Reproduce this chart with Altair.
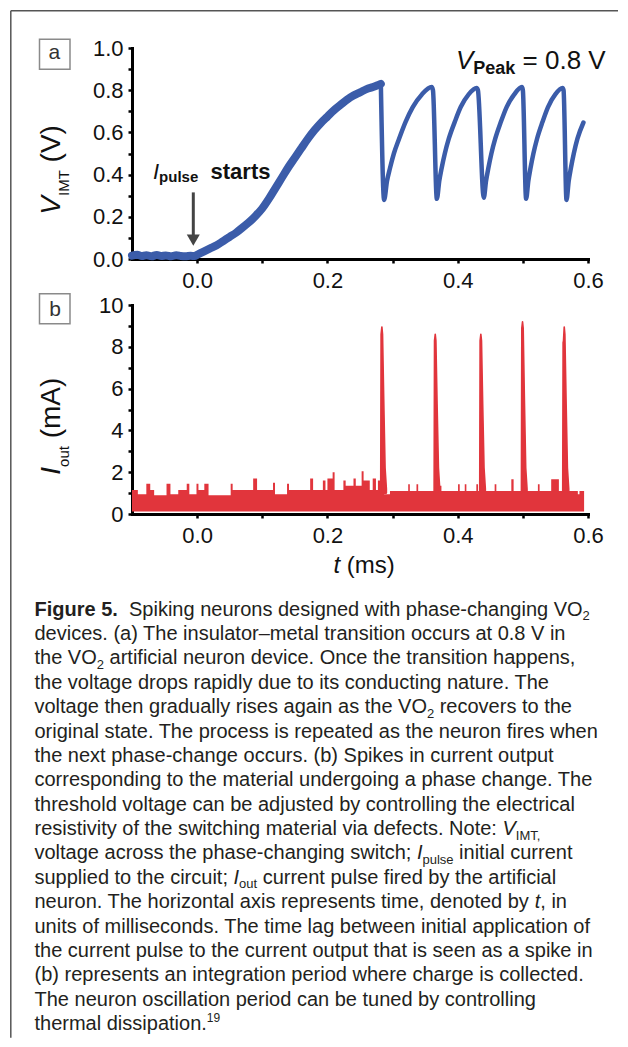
import altair as alt
import pandas as pd

FONT = "Liberation Sans"
BLUE = "#3b5ca9"
RED = "#e1353c"
INK = "#111111"
CAP_INK = "#231f20"

# ---------------- panel (a): V_IMT (V) versus t (ms) ----------------
v_time = [-0.100, -0.092, -0.085, -0.078, -0.070, -0.062, -0.055, -0.048, -0.040, -0.032,
          -0.025, -0.018, -0.010, -0.004, 0.000, 0.010, 0.020, 0.030, 0.040, 0.050,
          0.060, 0.070, 0.080, 0.090, 0.100, 0.110, 0.120, 0.130, 0.140, 0.150,
          0.160, 0.170, 0.180, 0.190, 0.200, 0.210, 0.220, 0.230, 0.240, 0.250,
          0.260, 0.270, 0.276, 0.282,
          0.287, 0.2915, 0.296, 0.302, 0.310, 0.320, 0.331, 0.345, 0.360, 0.362, 0.368,
          0.3717, 0.3753, 0.3802, 0.3863, 0.3955, 0.4046, 0.4168, 0.4290, 0.4310, 0.4400,
          0.4435, 0.4470, 0.4517, 0.4576, 0.4663, 0.4751, 0.4868, 0.4985, 0.5000, 0.5050,
          0.5084, 0.5117, 0.5162, 0.5218, 0.5302, 0.5386, 0.5498, 0.5610, 0.5625, 0.5670,
          0.5704, 0.5737, 0.5782, 0.5838, 0.5930]
v_volt = [0.016, 0.020, 0.014, 0.018, 0.013, 0.019, 0.014, 0.017, 0.013, 0.018,
          0.014, 0.013, 0.015, 0.014, 0.020, 0.035, 0.050, 0.065, 0.085, 0.105,
          0.125, 0.150, 0.175, 0.205, 0.240, 0.285, 0.335, 0.385, 0.435, 0.480,
          0.525, 0.570, 0.610, 0.645, 0.675, 0.705, 0.730, 0.755, 0.775, 0.790,
          0.805, 0.815, 0.822, 0.830,
          0.280, 0.370, 0.430, 0.500, 0.570, 0.650, 0.720, 0.780, 0.815, 0.800, 0.285,
          0.370, 0.430, 0.500, 0.570, 0.650, 0.720, 0.780, 0.810, 0.800, 0.290,
          0.370, 0.430, 0.500, 0.570, 0.650, 0.720, 0.780, 0.815, 0.800, 0.285,
          0.370, 0.430, 0.500, 0.570, 0.650, 0.720, 0.780, 0.810, 0.800, 0.280,
          0.370, 0.430, 0.500, 0.570, 0.647]

# ---------------- panel (b): I_out (mA) versus t (ms) ----------------
noise = [(-0.100, 1.15), (-0.091, 0.95), (-0.078, 1.45), (-0.072, 1.15), (-0.066, 0.90),
         (-0.047, 1.45), (-0.041, 0.95), (-0.029, 1.15), (-0.016, 1.45), (-0.012, 0.95),
         (-0.001, 1.45), (0.002, 1.15), (0.011, 1.45), (0.0175, 0.90), (0.0515, 1.45),
         (0.0545, 1.15), (0.086, 1.70), (0.092, 1.15), (0.1165, 1.50), (0.1195, 0.95),
         (0.138, 1.45), (0.141, 1.15), (0.1735, 1.70), (0.178, 1.15), (0.193, 1.60),
         (0.197, 1.15), (0.200, 1.70), (0.208, 2.00), (0.211, 1.15), (0.2245, 1.60),
         (0.228, 1.35), (0.240, 1.70), (0.2435, 1.35), (0.2525, 2.05), (0.2555, 1.60),
         (0.265, 1.15), (0.2695, 1.70), (0.2745, 1.15), (0.2775, 1.60), (0.2825, 1.30),
         (0.287, 0.95), (0.296, 1.10), (0.324, 1.42), (0.3265, 1.10), (0.3367, 1.42),
         (0.3393, 1.10), (0.3673, 1.35), (0.375, 1.10), (0.4005, 1.42), (0.4031, 1.10),
         (0.4108, 1.42), (0.4133, 1.10), (0.4286, 1.42), (0.4312, 1.10), (0.4567, 1.42),
         (0.4593, 1.10), (0.4823, 1.66), (0.4858, 1.10), (0.5231, 1.42), (0.5257, 1.10),
         (0.5435, 1.66), (0.5553, 1.10), (0.5844, 0.94), (0.5869, 1.10), (0.594, 1.10)]
spike_1 = [(0.2818, 1.3), (0.2824, 8.6), (0.2836, 8.95), (0.2846, 8.6), (0.2864, 5.5), (0.2885, 2.2), (0.2905, 1.2)]
spike_2 = [(0.3638, 1.3), (0.3644, 8.3), (0.3655, 8.6), (0.3665, 8.3), (0.3683, 5.3), (0.3704, 2.2), (0.3724, 1.2)]
spike_3 = [(0.4338, 1.3), (0.4344, 8.3), (0.4355, 8.6), (0.4365, 8.3), (0.4383, 5.3), (0.4404, 2.2), (0.4424, 1.2)]
spike_4 = [(0.4978, 1.3), (0.4984, 8.9), (0.4995, 9.2), (0.5005, 8.9), (0.5023, 5.6), (0.5044, 2.2), (0.5064, 1.2)]
spike_5 = [(0.5612, 1.3), (0.5618, 8.2), (0.5624, 8.3), (0.5635, 8.95), (0.5645, 8.6), (0.5663, 5.5), (0.5684, 2.2), (0.5704, 1.2)]
noise_floor = 0.12
spike_floor = 1.0

X_TICKS = [0.0, 0.1, 0.2, 0.3, 0.4, 0.5, 0.6]
YA_TICKS = [0.0, 0.1, 0.2, 0.3, 0.4, 0.5, 0.6, 0.7, 0.8, 0.9, 1.0]
YB_TICKS = [0, 1, 2, 3, 4, 5, 6, 7, 8, 9, 10]

CAPTION = [
    [("Figure 5.", "bold"), ("  Spiking neurons designed with phase-changing VO", "normal"), ("2", "sub")],
    [("devices. (a) The insulator\u2013metal transition occurs at 0.8 V in", "normal")],
    [("the VO", "normal"), ("2", "sub"), (" artificial neuron device. Once the transition happens,", "normal")],
    [("the voltage drops rapidly due to its conducting nature. The", "normal")],
    [("voltage then gradually rises again as the VO", "normal"), ("2", "sub"), (" recovers to the", "normal")],
    [("original state. The process is repeated as the neuron fires when", "normal")],
    [("the next phase-change occurs. (b) Spikes in current output", "normal")],
    [("corresponding to the material undergoing a phase change. The", "normal")],
    [("threshold voltage can be adjusted by controlling the electrical", "normal")],
    [("resistivity of the switching material via defects. Note: ", "normal"), ("V", "italic"), ("IMT,", "sub")],
    [("voltage across the phase-changing switch; ", "normal"), ("I", "italic"), ("pulse", "sub"), (" initial current", "normal")],
    [("supplied to the circuit; ", "normal"), ("I", "italic"), ("out", "sub"), (" current pulse fired by the artificial", "normal")],
    [("neuron. The horizontal axis represents time, denoted by ", "normal"), ("t", "italic"), (", in", "normal")],
    [("units of milliseconds. The time lag between initial application of", "normal")],
    [("the current pulse to the current output that is seen as a spike in", "normal")],
    [("(b) represents an integration period where charge is collected.", "normal")],
    [("The neuron oscillation period can be tuned by controlling", "normal")],
    [("thermal dissipation.", "normal"), ("19", "sup")],
]

# ---------------- layout (page pixels) ----------------
PA_X, PA_Y = 132.0, 47.3
W, HA, HB, GAP = 456, 211, 209, 46
PB_Y = PA_Y + HA + GAP

XS = alt.Scale(domain=[-0.1, 0.6], nice=False, zero=False)
YSA = alt.Scale(domain=[0, 1], nice=False, zero=False)
YSB = alt.Scale(domain=[0, 10], nice=False, zero=False)


def ta(px):
    return -0.1 + (px - PA_X) / W * 0.7


def va(py):
    return (PA_Y + HA - py) / HA


def ib(py):
    return (PB_Y + HB - py) / HB * 10.0


# Arial / Liberation Sans advance widths (1/1000 em)
REG = {" ": 278, "!": 278, "(": 333, ")": 333, ",": 278, "-": 333, ".": 278, ":": 278, ";": 278,
       "=": 584, "\u2013": 556}
for c in "0123456789":
    REG[c] = 556
for c, w in zip("ABCDEFGHIJKLMNOPQRSTUVWXYZ",
                [667, 667, 722, 722, 667, 611, 778, 722, 278, 500, 667, 556, 833, 722, 778, 667, 778, 722,
                 667, 611, 722, 667, 944, 667, 667, 611]):
    REG[c] = w
for c, w in zip("abcdefghijklmnopqrstuvwxyz",
                [556, 556, 500, 556, 556, 278, 556, 556, 222, 222, 500, 222, 833, 556, 556, 556, 556, 333,
                 500, 278, 556, 500, 722, 500, 500, 500]):
    REG[c] = w
BOLD = dict(REG)
for c, w in zip("ABCDEFGHIJKLMNOPQRSTUVWXYZ",
                [722, 722, 722, 722, 667, 611, 778, 722, 278, 556, 722, 611, 833, 722, 778, 667, 778, 722,
                 667, 611, 722, 667, 944, 667, 667, 611]):
    BOLD[c] = w
for c, w in zip("abcdefghijklmnopqrstuvwxyz",
                [556, 611, 556, 611, 556, 333, 611, 611, 278, 278, 556, 278, 889, 611, 611, 611, 611, 389,
                 556, 333, 611, 556, 778, 556, 556, 500]):
    BOLD[c] = w


def tw(text, style, size):
    table = BOLD if style == "bold" else REG
    return sum(table.get(c, 556) for c in text) / 1000.0 * size


def lay(runs, x0, y0, vertical=False):
    """runs: (text, style, size, shift). Returns rows in page pixels."""
    rows = []
    pos = y0 if vertical else x0
    for text, style, size, shift in runs:
        lead = len(text) - len(text.lstrip(" "))
        adv = tw(" " * lead, style, size)
        body = text.strip(" ")
        full = tw(text.lstrip(" "), style, size)
        if vertical:
            pos -= adv
            rows.append(dict(px=x0 + shift, py=pos, text=body, size=size, style=style))
            pos -= full
        else:
            pos += adv
            rows.append(dict(px=pos, py=y0 + shift, text=body, size=size, style=style))
            pos += full
    return rows


AX = dict(domainColor="black", domainWidth=3, domainCap="square", tickColor="black", tickWidth=2.5,
          tickSize=4, labelFont=FONT, labelFontSize=22, labelColor=INK, labelFlush=False,
          labelOverlap=False, grid=False, title=None)
x_axis = alt.Axis(values=X_TICKS, labelPadding=7,
                  labelExpr="round(datum.value*10) % 2 == 0 ? format(datum.value, '.1f') : ''", **AX)
ya_axis = alt.Axis(values=YA_TICKS, labelPadding=5,
                   labelExpr="round(datum.value*10) % 2 == 0 ? format(datum.value, '.1f') : ''", **AX)
yb_axis = alt.Axis(values=YB_TICKS, labelPadding=5,
                   labelExpr="datum.value % 2 == 0 ? format(datum.value, 'd') : ''", **AX)


def text_layers(rows, to_y, yscale, yaxis, color, angle=0):
    layers = []
    for style in ["normal", "italic", "bold"]:
        sub = [r for r in rows if r["style"] == style]
        if not sub:
            continue
        df = pd.DataFrame({"x": [ta(r["px"]) for r in sub],
                           "y": [to_y(r["py"]) for r in sub],
                           "text": [r["text"] for r in sub],
                           "size": [r["size"] for r in sub]})
        kw = dict(align="left", baseline="alphabetic", font=FONT, color=color)
        if style == "italic":
            kw["fontStyle"] = "italic"
        if style == "bold":
            kw["fontWeight"] = "bold"
        if angle:
            kw["angle"] = angle
        layers.append(alt.Chart(df).mark_text(**kw).encode(
            x=alt.X("x:Q", scale=XS, axis=x_axis),
            y=alt.Y("y:Q", scale=yscale, axis=yaxis),
            text="text:N",
            size=alt.Size("size:Q", scale=None, legend=None)))
    return layers


def cap_runs(line):
    out = []
    for text, kind in line:
        if kind == "sub":
            out.append((text, "normal", 13, 4.5))
        elif kind == "sup":
            out.append((text, "normal", 12, -8))
        else:
            out.append((text, kind, 20, 0))
    return out


one = pd.DataFrame({"k": [0]})

# ---------------- panel (a) ----------------
dfa = pd.DataFrame({"t": v_time, "v": v_volt})
base_a = alt.Chart(dfa).encode(x=alt.X("t:Q", scale=XS, axis=x_axis),
                               y=alt.Y("v:Q", scale=YSA, axis=ya_axis))
line_thick = base_a.transform_filter("datum.t <= 0.2821").mark_line(
    color=BLUE, strokeWidth=8, interpolate="monotone", strokeJoin="round", strokeCap="round")
line_thin = base_a.transform_filter("datum.t >= 0.2819").mark_line(
    color=BLUE, strokeWidth=4.5, interpolate="monotone", strokeJoin="round", strokeCap="round")


def L(px):
    return px - PA_X


def Ta(py):
    return py - PA_Y


frame_left = alt.Chart(one).mark_rule(color="#555555", strokeWidth=1.5).encode(
    x=alt.value(L(10.8)), y=alt.value(Ta(10.0)), y2=alt.value(Ta(1037.0)))
frame_top = alt.Chart(one).mark_rule(color="#555555", strokeWidth=1.5).encode(
    x=alt.value(L(10.8)), x2=alt.value(L(618.0)), y=alt.value(Ta(10.0)))
box_a = alt.Chart(one).mark_rect(fill="white", stroke="#8a8a8a", strokeWidth=1.5).encode(
    x=alt.value(L(39.5)), x2=alt.value(L(70.0)), y=alt.value(Ta(38.5)), y2=alt.value(Ta(68.5)))
arrow_shaft = alt.Chart(one).mark_rule(color="#444444", strokeWidth=3).encode(
    x=alt.value(L(193.3)), y=alt.value(Ta(191.7)), y2=alt.value(Ta(235.0)))
arrow_head = alt.Chart(one).mark_point(shape="triangle-down", size=170, filled=True,
                                       color="#444444", opacity=1).encode(
    x=alt.value(L(193.3)), y=alt.value(Ta(239.4)))

rows_a = []
rows_a += lay([("V", "italic", 26, 0), ("Peak", "bold", 18, 5), (" = 0.8 V", "normal", 26, 0)], 456.0, 68.0)
rows_a += lay([("I", "italic", 22, 0), ("pulse", "bold", 15, 3.5), ("  starts", "bold", 22, 0)], 153.0, 178.0)
rows_label_a = lay([("a", "normal", 21, 0)], 48.6, 58.5)
rows_ta = lay([("V", "italic", 28, 0), ("IMT", "normal", 15, 8.5), (" (V)", "normal", 28, 0)],
              60.0, 214.0, vertical=True)

panel_a = alt.layer(
    line_thick, line_thin, frame_left, frame_top, box_a, arrow_shaft, arrow_head,
    *text_layers(rows_a, va, YSA, ya_axis, INK),
    *text_layers(rows_label_a, va, YSA, ya_axis, "#333333"),
    *text_layers(rows_ta, va, YSA, ya_axis, INK, angle=270),
).properties(width=W, height=HA)

# ---------------- panel (b) ----------------
dfn = pd.DataFrame({"t": [p[0] for p in noise], "i": [p[1] for p in noise]})
noise_area = alt.Chart(dfn).mark_area(color=RED, interpolate="step-after", opacity=1).encode(
    x=alt.X("t:Q", scale=XS, axis=x_axis),
    y=alt.Y("i:Q", scale=YSB, axis=yb_axis),
    y2=alt.datum(noise_floor))
spk_rows = []
for k, sp in enumerate([spike_1, spike_2, spike_3, spike_4, spike_5]):
    for t, v in sp:
        spk_rows.append({"t": t, "i": v, "id": k})
dfs = pd.DataFrame(spk_rows)
spike_area = alt.Chart(dfs).mark_area(color=RED, stroke=RED, strokeWidth=1.6, opacity=1,
                                      strokeJoin="round").encode(
    x=alt.X("t:Q", scale=XS, axis=x_axis),
    y=alt.Y("i:Q", scale=YSB, axis=yb_axis),
    y2=alt.datum(spike_floor),
    detail="id:N")


def Tb(py):
    return py - PB_Y


box_b = alt.Chart(one).mark_rect(fill="white", stroke="#8a8a8a", strokeWidth=1.5).encode(
    x=alt.value(L(39.5)), x2=alt.value(L(70.0)), y=alt.value(Tb(293.0)), y2=alt.value(Tb(323.0)))

rows_b = lay([("t", "italic", 24, 0), (" (ms)", "normal", 24, 0)], 333.5, 572.0)
rows_label_b = lay([("b", "normal", 21, 0)], 49.2, 315.5)
rows_tb = lay([("I", "italic", 28, 0), ("out", "normal", 15, 8.5), (" (mA)", "normal", 28, 0)],
              60.0, 474.0, vertical=True)
rows_cap = []
for n, line in enumerate(CAPTION):
    rows_cap += lay(cap_runs(line), 34.5, 615.0 + 24.37 * n)

panel_b = alt.layer(
    noise_area, spike_area, box_b,
    *text_layers(rows_b, ib, YSB, yb_axis, INK),
    *text_layers(rows_label_b, ib, YSB, yb_axis, "#333333"),
    *text_layers(rows_tb, ib, YSB, yb_axis, INK, angle=270),
    *text_layers(rows_cap, ib, YSB, yb_axis, CAP_INK),
).properties(width=W, height=HB)

chart = alt.vconcat(panel_a, panel_b, spacing=GAP, bounds="flush").properties(
    padding={"left": 2, "top": 1, "right": 0, "bottom": 0},
    background="white",
).configure_view(strokeWidth=0)

chart.save("out.html", embed_options={"renderer": "svg", "actions": False})
